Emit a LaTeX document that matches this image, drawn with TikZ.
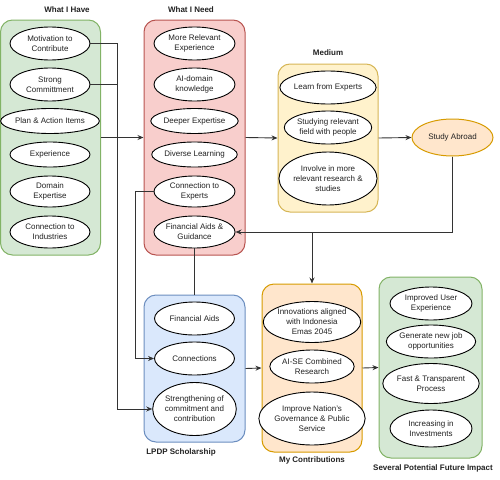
\documentclass[tikz,border=0pt]{standalone}
\usepackage{fontspec}
\setmainfont{Liberation Sans}
\usetikzlibrary{shapes.geometric,arrows.meta}
\definecolor{gfill}{HTML}{D5E8D4}\definecolor{gdraw}{HTML}{82B366}
\definecolor{rfill}{HTML}{F8CECC}\definecolor{rdraw}{HTML}{B85450}
\definecolor{yfill}{HTML}{FFF2CC}\definecolor{ydraw}{HTML}{D6B656}
\definecolor{bfill}{HTML}{DAE8FC}\definecolor{bdraw}{HTML}{6C8EBF}
\definecolor{ofill}{HTML}{FFE6CC}\definecolor{odraw}{HTML}{D79B00}
\definecolor{txt}{HTML}{222222}\definecolor{lncol}{HTML}{333333}
\tikzset{
  box/.style={draw=#1draw, fill=#1fill, rounded corners=12pt, line width=1pt, inner sep=0pt},
  oval/.style n args={2}{ellipse, draw=black, fill=white, line width=0.9pt, inner sep=0pt,
     minimum width=#1, minimum height=#2, align=center, text=txt,
     font=\fontsize{8}{10}\selectfont},
  ttl/.style={font=\fontsize{8}{10}\selectfont\bfseries, text=txt},
  arr/.style={draw=lncol, line width=0.9pt, -{Stealth[length=6pt,width=5pt]}},
  plain/.style={draw=lncol, line width=0.9pt},
}
\begin{document}
\begin{tikzpicture}[x=1pt,y=-1pt]
\useasboundingbox (0,0) rectangle (500,479);
% containers
\node[box=g, minimum width=100pt, minimum height=235pt] (have) at (50.5,137.5) {};
\node[box=r, minimum width=101pt, minimum height=235pt] (need) at (194.5,137.5) {};
\node[box=y, minimum width=100pt, minimum height=148pt] (medium) at (328,138) {};
\node[box=b, minimum width=101pt, minimum height=147pt] (lpdp) at (194.5,368.5) {};
\node[box=o, minimum width=100pt, minimum height=168pt] (contrib) at (312,368) {};
\node[box=g, minimum width=103pt, minimum height=181pt] (future) at (430.5,367.5) {};
% titles
\node[ttl] (t1) at (67,10) {What I Have};
\node[ttl] (t2) at (191,10) {What I Need};
\node[ttl] (t3) at (328,53) {Medium};
\node[ttl] (t4) at (181,452) {LPDP Scholarship};
\node[ttl] (t5) at (312,460) {My Contributions};
\node[ttl] (t6) at (433,468) {Several Potential Future Impact};
% What I Have
\node[oval={80pt}{33pt}] (mot) at (50,43.5) {Motivation to\\Contribute};
\node[oval={80pt}{33pt}] (str) at (50,84.5) {Strong\\Committment};
\node[oval={80pt}{25pt}] (plan) at (50,121) {Plan \& Action Items};
\node[oval={80pt}{25pt}] (exp) at (50,154.5) {Experience};
\node[oval={80pt}{31pt}] (dom) at (50,191.5) {Domain\\Expertise};
\node[oval={80pt}{32pt}] (ind) at (50,232) {Connection to\\Industries};
% What I Need
\node[oval={81pt}{33pt}] (mre) at (194.5,43.5) {More Relevant\\Experience};
\node[oval={81pt}{33pt}] (ai) at (194.5,84.5) {AI-domain\\knowledge};
\node[oval={81pt}{25pt}] (deep) at (194.5,121) {Deeper Expertise};
\node[oval={81pt}{25pt}] (div) at (194.5,154.5) {Diverse Learning};
\node[oval={81pt}{31pt}] (cte) at (194.5,191.5) {Connection to\\Experts};
\node[oval={81pt}{32pt}] (fin) at (194.5,232) {Financial Aids \&\\Guidance};
% Medium
\node[oval={82pt}{33pt}] (lfe) at (328,87.5) {Learn from Experts};
\node[oval={82pt}{33pt}] (srf) at (328,127.5) {Studying relevant\\field with people};
\node[oval={82pt}{53pt}] (inv) at (328,178.5) {Involve in more\\relevant research \&\\studies};
% Study Abroad
\node[ellipse, draw=odraw, fill=ofill, line width=1pt, minimum width=81pt, minimum height=37pt,
  inner sep=0pt, text=txt, font=\fontsize{8}{10}\selectfont] (sa) at (452.5,137.5) {Study Abroad};
% LPDP
\node[oval={80pt}{33pt}] (fa) at (194.5,318.5) {Financial Aids};
\node[oval={80pt}{33pt}] (con) at (194.5,358.5) {Connections};
\node[oval={80pt}{53pt}] (scc) at (194.5,409) {Strengthening of\\commitment and\\contribution};
% Contributions
\node[oval={80pt}{41pt}] (innov) at (312,322) {Innovations aligned\\with Indonesia\\Emas 2045};
\node[oval={78pt}{33pt}] (aise) at (312,366.5) {AI-SE Combined\\Research};
\node[oval={78pt}{53pt}] (gov) at (312,418.5) {Improve Nation's\\Governance \& Public\\Service};
% Future
\node[oval={82pt}{33pt}] (iue) at (431,303.5) {Improved User\\Experience};
\node[oval={82pt}{33pt}] (gen) at (431,341.5) {Generate new job\\opportunities};
\node[oval={82pt}{40pt}] (fast) at (431,383.5) {Fast \& Transparent\\Process};
\node[oval={82pt}{37pt}] (incr) at (431,428.5) {Increasing in\\Investments};
% junction points
\coordinate (j1) at (117,84.5);
% connectors
\draw[arr] (have.east) -- (need.west);
\draw[arr] (mot.east) -| (117,409) -- (scc.west);
\draw[plain] (str.east) -- (j1);
\draw[arr] (cte.west) -| (135,358.5) -- (con.west);
\draw[plain] (fin.south) -- (lpdp.north);
\draw[arr] (need.east) -- (medium.west);
\draw[arr] (medium.east) -- (sa.west);
\draw[arr] (sa.south) |- (fin.east);
\draw[arr] (sa.south) |- (contrib.north |- fin.east) -- (contrib.north);
\draw[arr] (lpdp.east) -- (contrib.west);
\draw[arr] (contrib.east) -- (future.west);
\end{tikzpicture}
\end{document}
